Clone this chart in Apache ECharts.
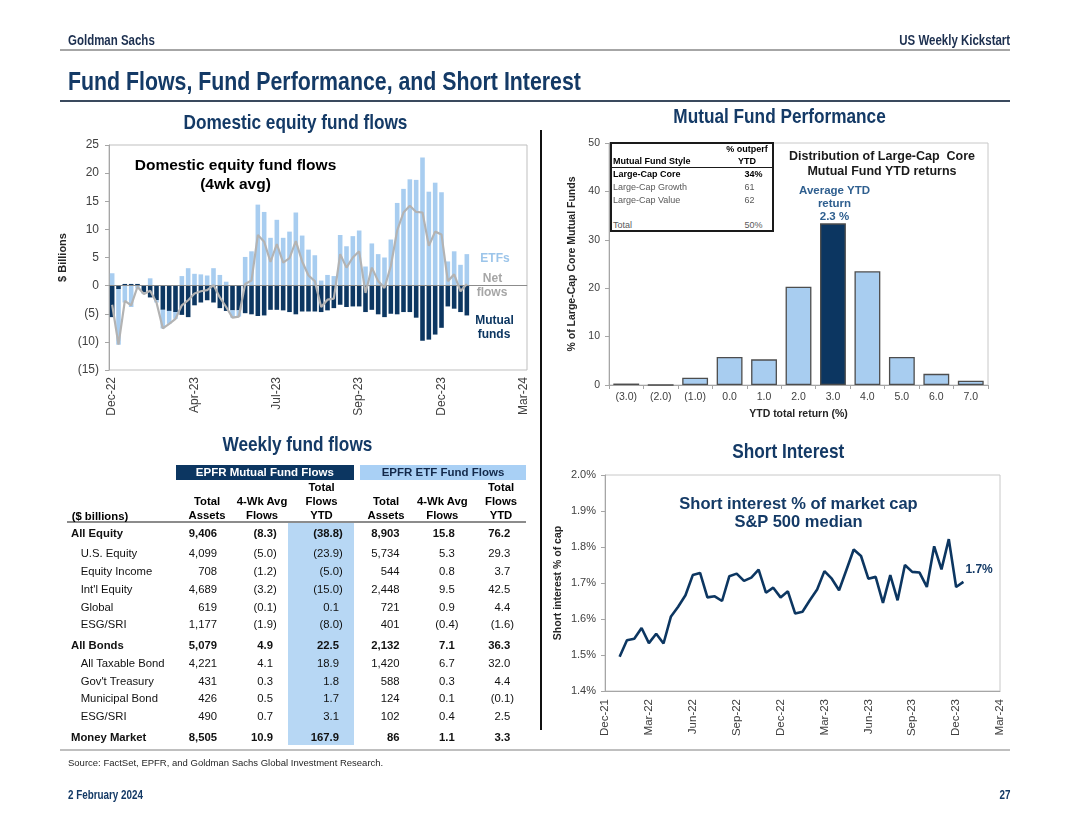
<!DOCTYPE html>
<html><head><meta charset="utf-8">
<script src="https://cdn.jsdelivr.net/npm/echarts@6/dist/echarts.min.js"></script>
<style>
body{margin:0;background:#fff;}
#page{position:relative;width:1080px;height:835px;overflow:hidden;background:#fff;font-family:'Liberation Sans',Arial,sans-serif;}
#chart{position:absolute;left:0;top:0;width:1080px;height:835px;}
.t{position:absolute;white-space:nowrap;}
.b{position:absolute;box-sizing:border-box;}
</style></head>
<body><div id="page"><div id="chart"></div></div>
<script>
// ---------------- DATA ----------------
// Domestic equity fund flows (4wk avg, $bn), weekly from late Dec-22
const flowTicks = ['Dec-22','Apr-23','Jul-23','Sep-23','Dec-23','Mar-24'];
const flowTickStep = 13;
const flowETF = [2.2,-9.9,-3.0,-3.8,-0.5,-0.3,1.3,-0.4,-3.3,-2.3,
  -1.2,1.7,3.1,2.1,2.0,1.8,3.1,1.9,0.7,-1.3,
  -1.1,5.1,6.1,14.4,13.1,8.5,11.7,8.5,9.6,13.0,
  8.9,6.4,5.4,0.9,1.9,1.7,9.0,7.0,8.8,9.8,
  3.4,7.5,5.6,5.0,8.2,14.7,17.2,18.9,18.8,22.8,
  16.7,18.3,16.6,4.3,6.1,3.7,5.6];
const flowMF = [-5.6,-0.6,0.3,0.3,0.3,-1.2,-2.1,-2.6,-4.3,-4.5,
  -4.7,-5.2,-5.6,-3.5,-3.0,-2.6,-3.0,-4.0,-4.5,-4.4,
  -4.4,-4.9,-5.1,-5.4,-5.3,-4.3,-4.3,-4.4,-4.7,-5.1,
  -4.6,-4.6,-4.6,-4.7,-4.4,-4.0,-3.4,-3.8,-3.7,-3.7,
  -4.7,-4.3,-5.1,-5.6,-5.0,-5.1,-4.7,-4.7,-5.7,-9.8,
  -9.6,-8.7,-7.5,-3.7,-4.1,-4.7,-5.3];
const flowNet = [-3.4,-10.5,-2.7,-3.5,-0.2,-1.5,-0.9,-3.0,-7.6,-6.8,
  -5.9,-3.5,-2.6,-1.4,-1.0,-0.8,0.1,-2.1,-3.8,-5.7,
  -5.5,0.3,0.9,9.0,7.8,4.2,7.4,4.1,4.9,7.9,
  4.3,1.8,0.8,-3.8,-2.5,-2.3,5.6,3.2,5.0,6.1,
  -1.3,3.2,0.8,-0.4,3.5,9.8,13.0,14.2,13.1,13.0,
  7.1,9.6,9.1,0.8,2.0,-1.0,0.3];

// Mutual fund performance distribution
const perfCats = ['(3.0)','(2.0)','(1.0)','0.0','1.0','2.0','3.0','4.0','5.0','6.0','7.0'];
const perfVals = [0.3,0,1.5,5.8,5.3,20.3,33.4,23.5,5.8,2.3,0.9];
const perfHighlight = '3.0';
const styleNames = ['Large-Cap Core','Large-Cap Growth','Large-Cap Value','Total'];
const styleOutperf = ['34%','61','62','50%'];
const avgYtd = 2.3;

// Short interest (% of market cap, S&P 500 median), semi-monthly
const siTicks = ['Dec-21','Mar-22','Jun-22','Sep-22','Dec-22','Mar-23','Jun-23','Sep-23','Dec-23','Mar-24'];
const siFirstHalfMonth = 2; // first observation, in half-months after Dec-21
const siValues = [1.495,1.541,1.545,1.575,1.533,1.559,1.532,1.606,1.634,1.666,
  1.722,1.728,1.660,1.663,1.650,1.719,1.726,1.706,1.715,1.737,
  1.673,1.687,1.660,1.677,1.615,1.620,1.652,1.682,1.733,1.712,
  1.680,1.736,1.793,1.775,1.712,1.717,1.645,1.722,1.652,1.750,
  1.731,1.729,1.689,1.802,1.738,1.822,1.689,1.703];

// Weekly fund flows table ($ billions)
const rowLabels = ['All Equity','U.S. Equity','Equity Income',"Int'l Equity",'Global','ESG/SRI',
  'All Bonds','All Taxable Bond',"Gov't Treasury",'Municipal Bond','ESG/SRI','Money Market'];
const mfAssets = [9406,4099,708,4689,619,1177,5079,4221,431,426,490,8505];
const mf4wk = [-8.3,-5.0,-1.2,-3.2,-0.1,-1.9,4.9,4.1,0.3,0.5,0.7,10.9];
const mfYtd = [-38.8,-23.9,-5.0,-15.0,0.1,-8.0,22.5,18.9,1.8,1.7,3.1,167.9];
const etfAssets = [8903,5734,544,2448,721,401,2132,1420,588,124,102,86];
const etf4wk = [15.8,5.3,0.8,9.5,0.9,-0.4,7.1,6.7,0.3,0.1,0.4,1.1];
const etfYtd = [76.2,29.3,3.7,42.5,4.4,-1.6,36.3,32.0,4.4,-0.1,2.5,3.3];

// ---------------- STYLE ----------------
const NAVY = '#0c3661', LIGHT = '#a8cdf0', TNAVY = '#143a66', FF = "'Liberation Sans', Arial, sans-serif";
const page = document.getElementById('page');

function txt(s, x, y, o) {
  o = o || {};
  const size = o.size || 11;
  const lh = Math.round(size * 1.25);
  const d = document.createElement('div');
  d.className = 't';
  d.style.top = (y - lh / 2) + 'px';
  d.style.lineHeight = lh + 'px';
  d.style.fontSize = size + 'px';
  d.style.fontWeight = o.bold ? 'bold' : 'normal';
  d.style.color = o.color || '#000';
  const align = o.align || 'left';
  const sp = document.createElement('span');
  sp.style.display = 'inline-block';
  if (o.html) sp.innerHTML = s; else sp.textContent = s;
  if (o.narrow) {
    sp.style.transform = 'scaleX(0.82)';
    sp.style.transformOrigin = align === 'left' ? 'left center' : (align === 'right' ? 'right center' : 'center center');
  }
  if (align === 'left') d.style.left = x + 'px';
  else if (align === 'right') { d.style.left = (x - 600) + 'px'; d.style.width = '600px'; d.style.textAlign = 'right'; }
  else { d.style.left = (x - 300) + 'px'; d.style.width = '600px'; d.style.textAlign = 'center'; }
  d.appendChild(sp);
  page.appendChild(d);
  return d;
}
function box(x, y, w, h, css) {
  const d = document.createElement('div');
  d.className = 'b';
  d.style.left = x + 'px'; d.style.top = y + 'px'; d.style.width = w + 'px'; d.style.height = h + 'px';
  Object.assign(d.style, css || {});
  page.appendChild(d);
  return d;
}

// ---------------- CHARTS ----------------
const nCats = (flowTicks.length - 1) * flowTickStep + 1;
const flowCats = Array.from({length: nCats}, (_, i) => 'w' + i);
const axisGray = '#a6a6a6', labGray = '#404040';

const chart = echarts.init(document.getElementById('chart'), null, {renderer: 'canvas'});
chart.setOption({
  animation: false,
  textStyle: {fontFamily: FF},
  grid: [
    {left: 109, top: 145, width: 418, height: 225, show: true, borderColor: '#bfbfbf', borderWidth: 1, outerBoundsMode: 'none'},
    {left: 609, top: 143, width: 379, height: 242, show: true, borderColor: '#c8c8c8', borderWidth: 1, outerBoundsMode: 'none'},
    {left: 605, top: 475, width: 395, height: 216, show: true, borderColor: '#c8c8c8', borderWidth: 1, outerBoundsMode: 'none'}
  ],
  xAxis: [
    {type: 'category', gridIndex: 0, data: flowCats, boundaryGap: true,
     axisLine: {show: true, lineStyle: {color: '#bfbfbf'}}, axisTick: {show: false}, splitLine: {show: false},
     axisLabel: {interval: flowTickStep - 1, rotate: 90, margin: 7, fontSize: 12, color: labGray,
       formatter: v => flowTicks[parseInt(String(v).slice(1), 10) / flowTickStep] || ''}},
    {type: 'category', gridIndex: 1, data: perfCats,
     axisLine: {lineStyle: {color: axisGray}}, axisTick: {show: true, length: 4, lineStyle: {color: axisGray}},
     axisLabel: {interval: 0, fontSize: 10.5, color: labGray, margin: 7},
     name: 'YTD total return (%)', nameLocation: 'middle', nameGap: 24,
     nameTextStyle: {fontWeight: 'bold', fontSize: 10.5, color: '#262626'}},
    {type: 'value', gridIndex: 2, min: 0, max: 54, interval: 6,
     axisLine: {lineStyle: {color: axisGray}}, axisTick: {show: false}, splitLine: {show: false},
     axisLabel: {rotate: 90, fontSize: 11.5, color: labGray, margin: 8,
       formatter: v => siTicks[Math.round(v / 6)] || ''}}
  ],
  yAxis: [
    {type: 'value', gridIndex: 0, min: -15, max: 25, interval: 5,
     axisLine: {show: true, lineStyle: {color: axisGray}}, axisTick: {show: true, length: 4, lineStyle: {color: axisGray}},
     splitLine: {show: false},
     axisLabel: {fontSize: 12, color: labGray, margin: 10, formatter: v => v < 0 ? '(' + (-v) + ')' : String(v)},
     name: '$ Billions', nameLocation: 'middle', nameGap: 41, nameRotate: 90,
     nameTextStyle: {fontWeight: 'bold', fontSize: 11, color: '#262626'}},
    {type: 'value', gridIndex: 1, min: 0, max: 50, interval: 10,
     axisLine: {show: true, lineStyle: {color: axisGray}}, axisTick: {show: true, length: 4, lineStyle: {color: axisGray}},
     splitLine: {show: false},
     axisLabel: {fontSize: 10.5, color: labGray, margin: 9},
     name: '% of Large-Cap Core Mutual Funds', nameLocation: 'middle', nameGap: 31, nameRotate: 90,
     nameTextStyle: {fontWeight: 'bold', fontSize: 10.5, color: '#262626'}},
    {type: 'value', gridIndex: 2, min: 1.4, max: 2.0, interval: 0.1,
     axisLine: {show: true, lineStyle: {color: axisGray}}, axisTick: {show: true, length: 4, lineStyle: {color: axisGray}},
     splitLine: {show: false},
     axisLabel: {fontSize: 11, color: labGray, margin: 9, formatter: v => v.toFixed(1) + '%'},
     name: 'Short interest % of cap', nameLocation: 'middle', nameGap: 41, nameRotate: 90,
     nameTextStyle: {fontWeight: 'bold', fontSize: 10.5, color: '#262626'}}
  ],
  series: [
    {type: 'bar', name: 'Mutual funds', xAxisIndex: 0, yAxisIndex: 0, stack: 'flows', data: flowMF, barWidth: 4.6,
     itemStyle: {color: NAVY},
     markLine: {silent: true, symbol: 'none', label: {show: false}, lineStyle: {color: '#8c8c8c', width: 1, type: 'solid'},
       data: [{yAxis: 0}]}},
    {type: 'bar', name: 'ETFs', xAxisIndex: 0, yAxisIndex: 0, stack: 'flows', data: flowETF, barWidth: 4.6,
     itemStyle: {color: LIGHT}},
    {type: 'line', name: 'Net flows', xAxisIndex: 0, yAxisIndex: 0, data: flowNet, symbol: 'none', z: 5,
     lineStyle: {color: '#b3b3b3', width: 2.2}},
    {type: 'bar', name: 'Distribution', xAxisIndex: 1, yAxisIndex: 1, barCategoryGap: '25%',
     data: perfVals.map((v, i) => ({value: v, itemStyle: {color: perfCats[i] === perfHighlight ? NAVY : LIGHT}})),
     itemStyle: {borderColor: '#4d4d4d', borderWidth: 1.3}},
    {type: 'line', name: 'Short interest', xAxisIndex: 2, yAxisIndex: 2, symbol: 'none',
     data: siValues.map((v, i) => [i + siFirstHalfMonth, v]),
     lineStyle: {color: NAVY, width: 2.6},
     endLabel: {show: true, formatter: p => p.value[1].toFixed(1) + '%', color: TNAVY, fontWeight: 'bold',
       fontSize: 12, fontFamily: FF, distance: 2, offset: [0, -12]}}
  ]
});

// ---------------- PAGE TEXT / FRAMES ----------------
txt('Goldman Sachs', 68, 40, {size: 14, bold: true, narrow: true, color: '#1c2f4f'});
txt('US Weekly Kickstart', 1010, 40, {size: 14, bold: true, narrow: true, color: '#1c2f4f', align: 'right'});
box(60, 49, 950, 2, {background: '#a6a6a6'});
txt('Fund Flows, Fund Performance, and Short Interest', 68, 81, {size: 26, bold: true, narrow: true, color: TNAVY});
box(60, 100, 950, 1.5, {background: '#3a4a5e'});
txt('Domestic equity fund flows', 295.5, 122, {size: 21, bold: true, narrow: true, color: TNAVY, align: 'center'});
txt('Mutual Fund Performance', 780, 116, {size: 21, bold: true, narrow: true, color: TNAVY, align: 'center'});
txt('Weekly fund flows', 297, 444, {size: 21, bold: true, narrow: true, color: TNAVY, align: 'center'});
txt('Short Interest', 788, 451, {size: 21, bold: true, narrow: true, color: TNAVY, align: 'center'});
box(540, 130, 2, 600, {background: '#111'});
box(60, 749, 950, 2, {background: '#bfbfbf'});
txt('Source: FactSet, EPFR, and Goldman Sachs Global Investment Research.', 68, 762.5, {size: 9.5, color: '#262626'});
txt('2 February 2024', 68, 795, {size: 12, bold: true, narrow: true, color: TNAVY});
txt('27', 1010, 795, {size: 12, bold: true, narrow: true, color: TNAVY, align: 'right'});

// chart 1 annotations
txt('Domestic equity fund flows', 235.5, 164, {size: 15.5, bold: true, align: 'center'});
txt('(4wk avg)', 235.5, 183, {size: 15.5, bold: true, align: 'center'});
txt('ETFs', 495, 258.5, {size: 12, bold: true, color: '#9cc5ea', align: 'center'});
txt('Net', 492.5, 278.5, {size: 12, bold: true, color: '#a6a6a6', align: 'center'});
txt('flows', 492, 292.5, {size: 12, bold: true, color: '#a6a6a6', align: 'center'});
txt('Mutual', 494.5, 320.5, {size: 12, bold: true, color: NAVY, align: 'center'});
txt('funds', 494, 334, {size: 12, bold: true, color: NAVY, align: 'center'});

// chart 2 annotations + inset table
box(610, 142, 164, 90, {border: '2px solid #1a1a1a', background: '#fff'});
txt('% outperf', 747, 149, {size: 9, bold: true, align: 'center'});
txt('Mutual Fund Style', 613, 161.7, {size: 9, bold: true});
txt('YTD', 747, 161.7, {size: 9, bold: true, align: 'center'});
box(611, 166.5, 162, 1.5, {background: '#1a1a1a'});
const styleYs = [174.5, 187.3, 200, 225.7];
styleNames.forEach((n, i) => {
  const bold = i === 0;
  const col = bold ? '#000' : '#595959';
  txt(n, 613, styleYs[i], {size: 9, bold: bold, color: col});
  txt(styleOutperf[i], 744.5, styleYs[i], {size: 9, bold: bold, color: col});
});
txt('Distribution of Large-Cap&nbsp; Core', 882, 156, {size: 12.5, bold: true, html: true, color: '#1a1a1a', align: 'center'});
txt('Mutual Fund YTD returns', 882, 170.7, {size: 12.5, bold: true, color: '#1a1a1a', align: 'center'});
txt('Average YTD', 834.5, 190, {size: 11.5, bold: true, color: '#2f5f8f', align: 'center'});
txt('return', 834.5, 202.7, {size: 11.5, bold: true, color: '#2f5f8f', align: 'center'});
txt(avgYtd.toFixed(1) + ' %', 834.5, 216, {size: 11.5, bold: true, color: '#2f5f8f', align: 'center'});

// chart 3 annotations
txt('Short interest % of market cap', 798.5, 503.3, {size: 16.5, bold: true, color: TNAVY, align: 'center'});
txt('S&amp;P 500 median', 798.5, 521.7, {size: 16.5, bold: true, html: true, color: TNAVY, align: 'center'});

// ---------------- TABLE ----------------
const TS = 11.3;
box(175.7, 465, 178.3, 14.5, {background: NAVY});
box(360, 465, 166, 14.5, {background: '#a9d0f5'});
txt('EPFR Mutual Fund Flows', 264.8, 472.2, {size: 11.5, bold: true, color: '#fff', align: 'center'});
txt('EPFR ETF Fund Flows', 443, 472.2, {size: 11.5, bold: true, color: '#13294b', align: 'center'});
box(288.3, 522.5, 65.7, 222.5, {background: '#b7d7f4'});
box(66.7, 521, 459.3, 2, {background: '#8c8c8c'});
txt('($ billions)', 71.7, 515.5, {size: TS, bold: true});

const fmtInt = v => v.toLocaleString('en-US');
const fmtAcc = v => v < 0 ? '(' + (-v).toFixed(1) + ')' : v.toFixed(1) + '<span style="visibility:hidden">)</span>';
const cols = [
  {vals: mfAssets, right: 217, hdr: ['', 'Total', 'Assets'], hc: 207, f: fmtInt},
  {vals: mf4wk, right: 276.8, hdr: ['', '4-Wk Avg', 'Flows'], hc: 262, f: fmtAcc},
  {vals: mfYtd, right: 342.8, hdr: ['Total', 'Flows', 'YTD'], hc: 321.5, f: fmtAcc},
  {vals: etfAssets, right: 399.5, hdr: ['', 'Total', 'Assets'], hc: 386, f: fmtInt},
  {vals: etf4wk, right: 458.5, hdr: ['', '4-Wk Avg', 'Flows'], hc: 442.3, f: fmtAcc},
  {vals: etfYtd, right: 514, hdr: ['Total', 'Flows', 'YTD'], hc: 501, f: fmtAcc}
];
const hdrYs = [486.7, 500.7, 515.2];
cols.forEach(c => c.hdr.forEach((h, k) => { if (h) txt(h, c.hc, hdrYs[k], {size: TS, bold: true, align: 'center'}); }));
const rowYs = [532.7, 553.3, 571, 588.7, 606.7, 624.3, 645, 662.7, 680.7, 698.3, 716, 736.7];
const summaryRows = new Set([0, 6, 11]);
rowLabels.forEach((lab, r) => {
  const bold = summaryRows.has(r);
  txt(lab, bold ? 71 : 80.7, rowYs[r], {size: TS, bold: bold, color: '#111'});
  cols.forEach(c => txt(c.f(c.vals[r]), c.right, rowYs[r], {size: TS, bold: bold, html: true, color: '#111', align: 'right'}));
});
</script></body></html>
